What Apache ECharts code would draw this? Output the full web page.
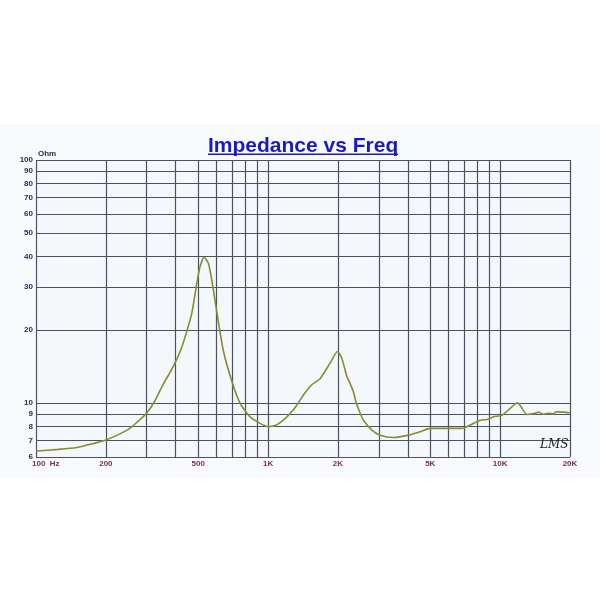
<!DOCTYPE html>
<html>
<head>
<meta charset="utf-8">
<script src="https://cdn.jsdelivr.net/npm/echarts@6/dist/echarts.min.js"></script>
<style>html,body{margin:0;padding:0;background:#fff}#c{width:600px;height:600px}</style>
</head>
<body>
<div id="c"></div>
<script>
// Frequency (Hz) and impedance (Ohm)
const freq = [100,125,150,175,200,225,250,275,300,325,354,375,397,420,439,469,493,509,530,553,572,601,641,698,757,836,924,1003,1080,1164,1250,1330,1420,1543,1675,1850,1990,2078,2184,2260,2334,2400,2493,2576,2800,3040,3470,4030,4520,4990,5890,6840,7430,8210,8780,9360,10170,11040,11870,12180,13030,14150,14620,15360,16150,16980,17440,18760,20000];
const impedance = [6.35,6.45,6.57,6.8,7.05,7.4,7.8,8.4,9.1,10.2,12.0,13.2,14.6,16.5,18.7,23.4,31.1,36.4,39.8,37.6,32.1,23.8,16.5,12.3,10.0,8.78,8.25,8.0,8.1,8.5,9.1,9.8,10.8,11.9,12.6,14.6,16.3,15.3,12.9,12.0,11.1,10.0,9.1,8.5,7.74,7.38,7.22,7.38,7.62,7.87,7.87,7.87,8.12,8.5,8.56,8.78,8.9,9.5,10.03,9.8,8.98,9.07,9.18,9.0,9.07,9.03,9.2,9.18,9.12];

// Grid lines and tick labels
const xGrid = [100,200,300,400,500,600,700,800,900,1000,2000,3000,4000,5000,6000,7000,8000,9000,10000,20000];
const xTickLabels = {100:'100  Hz',200:'200',500:'500',1000:'1K',2000:'2K',5000:'5K',10000:'10K',20000:'20K'};
const yGrid = [6,7,8,9,10,20,30,40,50,60,70,80,90,100];
const yTickLabels = ['6','7','8','9','10','20','30','40','50','60','70','80','90','100'];

const gridColor = '#4c5166';
const markData = [];
xGrid.forEach(v => {
  const item = {xAxis: v, label: {formatter: xTickLabels[v] || '', color: '#7a2c5e'}};
  if (v === 100) { item.label.align = 'left'; item.label.offset = [-4, 0]; }
  markData.push(item);
});
yGrid.forEach((v, i) => {
  markData.push({yAxis: v, label: {formatter: yTickLabels[i], color: '#2c2c50'}});
});

const chart = echarts.init(document.getElementById('c'));
chart.setOption({
  backgroundColor: '#ffffff',
  animation: false,
  title: {
    text: 'Impedance vs Freq',
    left: 203,
    top: 131,
    textStyle: {fontFamily: 'Liberation Sans, Arial', fontSize: 21, fontWeight: 'bold', color: '#1a1ac4'}
  },
  graphic: [
    {type: 'rect', z: -10, shape: {x: 0, y: 124, width: 600, height: 354}, style: {fill: '#f9fafb'}},
    {type: 'rect', z: 100, shape: {x: 208, y: 153.5, width: 190, height: 1.6}, style: {fill: '#1a1ac4'}},
    {type: 'text', left: 38, top: 150, style: {text: 'Ohm', font: 'bold 8px Liberation Sans, Arial', fill: '#2c2c50'}},
    {type: 'text', left: 540, top: 439, z: 100, style: {text: 'LMS', font: 'italic 12px DejaVu Serif', fill: '#222'}}
  ],
  grid: {left: 36, right: 30, top: 160, bottom: 143, show: true, backgroundColor: '#f5f8fb', borderWidth: 0},
  xAxis: {
    type: 'log', logBase: 10, min: 100, max: 20000,
    axisLine: {show: false}, axisTick: {show: false}, axisLabel: {show: false}, splitLine: {show: false}
  },
  yAxis: {
    type: 'log', logBase: 10, min: 6, max: 100,
    axisLine: {show: false}, axisTick: {show: false}, axisLabel: {show: false}, splitLine: {show: false}
  },
  series: [
    {
      type: 'line', data: [], z: 1, silent: true,
      markLine: {
        silent: true, symbol: 'none', animation: false,
        lineStyle: {color: gridColor, width: 1.2, type: 'solid'},
        label: {show: true, position: 'start', distance: 3, fontFamily: 'Liberation Sans, Arial', fontSize: 8, fontWeight: 'bold'},
        emphasis: {disabled: true},
        data: markData
      }
    },
    {
      type: 'line', z: 5, showSymbol: false, smooth: 0.2,
      data: freq.map((f, i) => [f, impedance[i]]),
      lineStyle: {color: '#8a8a2e', width: 1.6}
    }
  ]
});
</script>
</body>
</html>
